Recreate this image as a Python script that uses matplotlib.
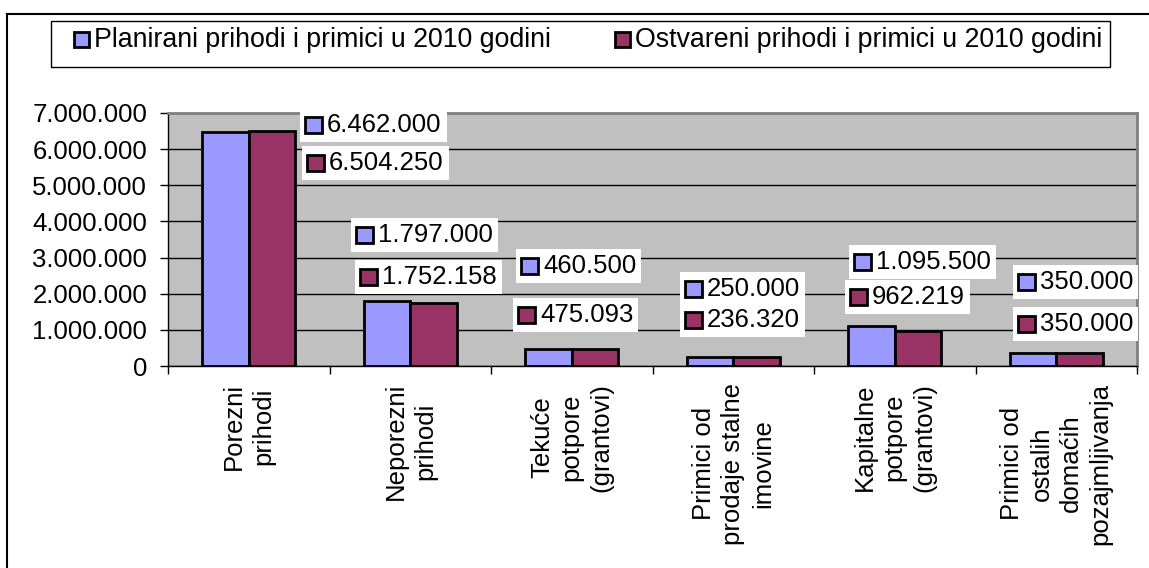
import matplotlib
matplotlib.use('Agg')
import matplotlib.pyplot as plt
from matplotlib.patches import Rectangle
from matplotlib.offsetbox import DrawingArea, TextArea, HPacker, AnnotationBbox
import numpy as np

plt.rcParams['font.family'] = ['Liberation Sans', 'DejaVu Sans']

# Podaci
kategorije = ['Porezni\nprihodi', 'Neporezni\nprihodi', 'Tekuće\npotpore\n(grantovi)',
              'Primici od\nprodaje stalne\nimovine', 'Kapitalne\npotpore\n(grantovi)',
              'Primici od\nostalih\ndomaćih\npozajmljivanja']
planirani = [6462000, 1797000, 460500, 250000, 1095500, 350000]
ostvareni = [6504250, 1752158, 475093, 236320, 962219, 350000]
serije = ['Planirani prihodi i primici u 2010 godini', 'Ostvareni prihodi i primici u 2010 godini']
boje = ['#9999FF', '#993366']

# polozaj oznaka vrijednosti (pikseli: lijevi rub kvadratica, sredina po visini)
oznake_plan = [(305, 125), (356, 235), (521, 266), (685, 289), (854, 262), (1018, 282)]
oznake_ostv = [(307, 163), (360, 277), (518, 315), (685, 320), (850, 297), (1018, 324)]

W, H = 1149, 568
FS = 18.5
fig = plt.figure(figsize=(W / 100, H / 100), dpi=100)

def fx(px):
    return px / W

def fy(py):
    return 1 - py / H

ax = fig.add_axes([fx(168), fy(366), fx(1137) - fx(168), fy(113) - fy(366)])
ax.set_facecolor('#C0C0C0')

x = np.arange(len(kategorije))
sirina = 0.288
ax.bar(x - sirina / 2, planirani, sirina, color=boje[0], edgecolor='black', linewidth=2, zorder=3)
ax.bar(x + sirina / 2, ostvareni, sirina, color=boje[1], edgecolor='black', linewidth=2, zorder=3)

ax.set_xlim(-0.5, len(kategorije) - 0.5)
ax.set_ylim(0, 7000000)
ax.set_yticks(np.arange(0, 7000001, 1000000))
ax.set_yticklabels([f'{v:,}'.replace(',', '.') for v in np.arange(0, 7000001, 1000000)], fontsize=FS)
ax.yaxis.grid(True, color='black', linewidth=1, zorder=1)
ax.set_axisbelow(True)

ax.set_xticks(x)
ax.set_xticklabels(kategorije, rotation=90, fontsize=FS, ha='center', va='top',
                   multialignment='center', linespacing=1.3)
ax.set_xticks(np.arange(-0.5, len(kategorije)), minor=True)
ax.tick_params(axis='x', which='major', length=0, pad=12)
ax.tick_params(axis='x', which='minor', length=6, width=1, direction='out')
ax.tick_params(axis='y', length=6, width=1, direction='out', pad=9)

for s in ['top', 'right']:
    ax.spines[s].set_color('#808080')
    ax.spines[s].set_linewidth(2)
for s in ['left', 'bottom']:
    ax.spines[s].set_color('black')
    ax.spines[s].set_linewidth(1)

# oznake vrijednosti
def oznaka(vrijednost, boja, px, py):
    da = DrawingArea(12, 12, 0, 0)
    da.add_artist(Rectangle((0, 0), 12, 12, facecolor=boja, edgecolor='black', linewidth=2))
    ta = TextArea(f'{vrijednost:,}'.replace(',', '.'), textprops=dict(fontsize=FS))
    box = HPacker(children=[da, ta], align='center', pad=0, sep=4)
    ab = AnnotationBbox(box, (px, H - py), xycoords='figure pixels', box_alignment=(0, 0.5),
                        frameon=True, pad=0.35,
                        bboxprops=dict(facecolor='white', edgecolor='none'))
    ab.set_zorder(5)
    fig.add_artist(ab)

for i in range(len(kategorije)):
    oznaka(planirani[i], boje[0], *oznake_plan[i])
for i in range(len(kategorije)):
    oznaka(ostvareni[i], boje[1], *oznake_ostv[i])

# legenda
fig.add_artist(Rectangle((fx(51), fy(67)), fx(1110) - fx(51), fy(21) - fy(67),
                         transform=fig.transFigure, facecolor='white', edgecolor='black', linewidth=1))
for poz, ime, boja in zip([74, 615], serije, boje):
    fig.add_artist(Rectangle((fx(poz), fy(47)), fx(15), fy(32) - fy(47), transform=fig.transFigure,
                             facecolor=boja, edgecolor='black', linewidth=2))
    fig.text(fx(poz + 20), fy(40), ime, fontsize=19.3, va='center', ha='left')

# okvir grafikona
fig.add_artist(plt.Line2D([fx(7), fx(7)], [fy(14), 0], transform=fig.transFigure, color='black', linewidth=1.5))
fig.add_artist(plt.Line2D([fx(7), 1], [fy(14), fy(14)], transform=fig.transFigure, color='black', linewidth=1.5))

fig.savefig('out.png', dpi=100)
